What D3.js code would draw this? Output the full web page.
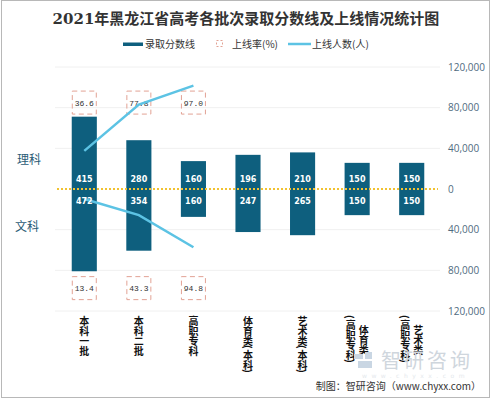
<!DOCTYPE html>
<html>
<head>
<meta charset="utf-8">
<script src="https://cdn.jsdelivr.net/npm/d3@7"></script>
<style>
  html, body { margin: 0; padding: 0; background: #fff; }
  svg { display: block; }
</style>
</head>
<body>
<svg id="chart" width="491" height="400"></svg>
<script>
// ---- data ----
const categories = ["本科一批", "本科二批", "高职专科", "体育类(本科)", "艺术类(本科)", "体育类(高职专科)", "艺术类(高职专科)"];
const categoryLines = [["本科一批"], ["本科二批"], ["高职专科"], ["体育类(本科)"], ["艺术类(本科)"], ["体育类", "(高职专科)"], ["艺术类", "(高职专科)"]];
const scoreLi = [415, 280, 160, 196, 210, 150, 150];   // 理科 录取分数线
const scoreWen = [472, 354, 160, 247, 265, 150, 150];  // 文科 录取分数线
const rateCats = ["本科一批", "本科二批", "高职专科"];
const rateLi = ["36.6", "77.8", "97.0"];               // 理科 上线率(%)
const rateWen = ["13.4", "43.3", "94.8"];              // 文科 上线率(%)
const countLi = [37500, 83000, 101700];                // 理科 上线人数
const countWen = [9900, 25700, 57300];                 // 文科 上线人数
const rightTicks = [-120000, -80000, -40000, 0, 40000, 80000, 120000];

const svg = d3.select("#chart");
const barColor = "#0e5f7e";
const lineColor = "#5cc3e4";
const boxColor = "#e2a294";

// border
svg.append("rect").attr("x", 1.5).attr("y", 0.5).attr("width", 488).attr("height", 397)
  .attr("fill", "#fff").attr("stroke", "#b8b8b8");

// scales
const x = d3.scaleBand().domain(categories).range([57, 439]).paddingInner(0.54).paddingOuter(0.27);
const yR = d3.scaleLinear().domain([-120000, 120000]).range([311, 67]);
const yS = d3.scaleLinear().domain([-700, 700]).range([311, 67]);
const xc = c => x(c) + x.bandwidth() / 2;

// title
svg.append("text").attr("x", 246).attr("y", 24).attr("text-anchor", "middle")
  .attr("font-family", "'DejaVu Serif', 'Noto Sans CJK SC', serif").attr("font-weight", "bold")
  .attr("font-size", 15).attr("fill", "#333").text("2021年黑龙江省高考各批次录取分数线及上线情况统计图");

// legend
const lg = svg.append("g").attr("font-family", "'Noto Sans CJK SC', sans-serif").attr("font-size", 10).attr("fill", "#333");
lg.append("rect").attr("x", 123).attr("y", 42.5).attr("width", 20).attr("height", 3.5).attr("fill", barColor);
lg.append("text").attr("x", 145).attr("y", 48).text("录取分数线");
lg.append("rect").attr("x", 216.5).attr("y", 40.5).attr("width", 6).attr("height", 6)
  .attr("fill", "none").attr("stroke", boxColor).attr("stroke-dasharray", "2,2");
lg.append("text").attr("x", 232).attr("y", 48).text("上线率(%)");
lg.append("line").attr("x1", 288).attr("x2", 311).attr("y1", 44).attr("y2", 44)
  .attr("stroke", lineColor).attr("stroke-width", 2.5);
lg.append("text").attr("x", 312).attr("y", 48).text("上线人数(人)");

// gridlines
svg.append("g").selectAll("line").data(rightTicks.filter(d => d !== 0)).join("line")
  .attr("x1", 55).attr("x2", 440).attr("y1", d => yR(d)).attr("y2", d => yR(d))
  .attr("stroke", "#f0f0f0").attr("stroke-width", 1);

// right axis
const axisR = d3.axisRight(yR).tickValues(rightTicks).tickSize(0).tickPadding(0)
  .tickFormat(d => d3.format(",")(Math.abs(d)));
const gAx = svg.append("g").attr("transform", "translate(448,0)").call(axisR);
gAx.select(".domain").remove();
gAx.selectAll("text").attr("font-family", "'Open Sans', sans-serif").attr("font-size", 10).attr("fill", "#4f6b80");

// bars
const bars = svg.append("g");
bars.selectAll("rect.up").data(categories).join("rect").attr("class", "up")
  .attr("x", d => x(d)).attr("width", x.bandwidth())
  .attr("y", (d, i) => yS(scoreLi[i])).attr("height", (d, i) => yS(0) - yS(scoreLi[i]))
  .attr("fill", barColor);
bars.selectAll("rect.dn").data(categories).join("rect").attr("class", "dn")
  .attr("x", d => x(d)).attr("width", x.bandwidth())
  .attr("y", yS(0)).attr("height", (d, i) => yS(-scoreWen[i]) - yS(0))
  .attr("fill", barColor);

// zero line
svg.append("line").attr("x1", 57).attr("x2", 438).attr("y1", yR(0)).attr("y2", yR(0))
  .attr("stroke", "#f2c230").attr("stroke-width", 2).attr("stroke-dasharray", "2,2");

// rate boxes
function rateBoxes(vals, yVal) {
  const g = svg.append("g");
  const yc = yR(yVal);
  g.selectAll("rect").data(rateCats).join("rect")
    .attr("x", d => xc(d) - 12).attr("y", yc - 11.5).attr("width", 24).attr("height", 23)
    .attr("fill", "none").attr("stroke", boxColor).attr("stroke-width", 1).attr("stroke-dasharray", "5,3.5");
  g.selectAll("text").data(rateCats).join("text")
    .attr("x", d => xc(d)).attr("y", yc + 3).attr("text-anchor", "middle")
    .attr("font-family", "'Liberation Mono', monospace").attr("font-size", 8).attr("fill", "#333")
    .text((d, i) => vals[i]);
}
rateBoxes(rateLi, 85000);
rateBoxes(rateWen, -97500);

// lines 上线人数
const line = d3.line().x(d => xc(d.c)).y(d => yR(d.v));
svg.append("path").datum(rateCats.map((c, i) => ({ c, v: countLi[i] })))
  .attr("d", line).attr("fill", "none").attr("stroke", lineColor).attr("stroke-width", 2.5);
svg.append("path").datum(rateCats.map((c, i) => ({ c, v: -countWen[i] })))
  .attr("d", line).attr("fill", "none").attr("stroke", lineColor).attr("stroke-width", 2.5);

// bar labels
const bl = svg.append("g").attr("font-family", "'DejaVu Sans', sans-serif").attr("font-weight", "bold")
  .attr("font-size", 8).attr("fill", "#fff").attr("text-anchor", "middle");
bl.selectAll("text.u").data(categories).join("text").attr("class", "u")
  .attr("x", d => xc(d)).attr("y", yS(0) - 7.5).text((d, i) => scoreLi[i]);
bl.selectAll("text.d").data(categories).join("text").attr("class", "d")
  .attr("x", d => xc(d)).attr("y", yS(0) + 15).text((d, i) => scoreWen[i]);

// side labels
svg.append("text").attr("x", 17).attr("y", 164).attr("font-family", "'Noto Sans CJK SC', sans-serif")
  .attr("font-size", 12).attr("fill", "#2b5b76").text("理科");
svg.append("text").attr("x", 15).attr("y", 231).attr("font-family", "'Noto Sans CJK SC', sans-serif")
  .attr("font-size", 12).attr("fill", "#2b5b76").text("文科");

// category labels (vertical, stacked characters)
const cg = svg.append("g").attr("font-family", "'Noto Sans CJK SC', sans-serif").attr("font-weight", "bold")
  .attr("font-size", 10).attr("fill", "#111").attr("text-anchor", "middle").attr("dominant-baseline", "central");
const isParen = ch => "()".includes(ch);
const colLen = s => Array.from(s).reduce((a, ch) => a + (isParen(ch) ? 4 : 10), 0);
categories.forEach((c, i) => {
  const cols = categoryLines[i];
  const n = cols.length;
  const maxLen = d3.max(cols, colLen);
  cols.forEach((s, j) => {
    const cx = xc(c) + (n - 1) * 6.5 - j * 13;
    let yy = 315 + (maxLen - colLen(s)) / 2;
    Array.from(s).forEach(ch => {
      const h = isParen(ch) ? 4 : 10;
      const ym = yy + h / 2;
      const t = cg.append("text").attr("x", cx).attr("y", ym).text(ch);
      if (isParen(ch)) t.attr("transform", `rotate(90,${cx},${ym})`);
      yy += h;
    });
  });
});

// watermark
const wm = svg.append("g");
wm.append("path").attr("d", "M354,354 h9 v5 h-9 z M358,361 h14 v7 h-14 z M365,352 h7 v7 h-7 z").attr("fill", "#c9d6e3");
wm.append("text").attr("x", 381).attr("y", 368).attr("font-family", "'Noto Sans CJK SC', sans-serif")
  .attr("font-size", 20).attr("letter-spacing", 3).attr("fill", "#cfd6dd").text("智研咨询");
wm.append("text").attr("x", 362).attr("y", 378).attr("font-family", "'DejaVu Sans', sans-serif")
  .attr("font-size", 6).attr("letter-spacing", 4.5).attr("fill", "#e4e8ec").text("www.chyxx.com");

// credits
svg.append("text").attr("x", 481).attr("y", 390).attr("text-anchor", "end")
  .attr("font-family", "'Noto Sans CJK SC', sans-serif").attr("font-size", 10).attr("fill", "#333")
  .text("制图：智研咨询（www.chyxx.com）");
</script>
</body>
</html>
